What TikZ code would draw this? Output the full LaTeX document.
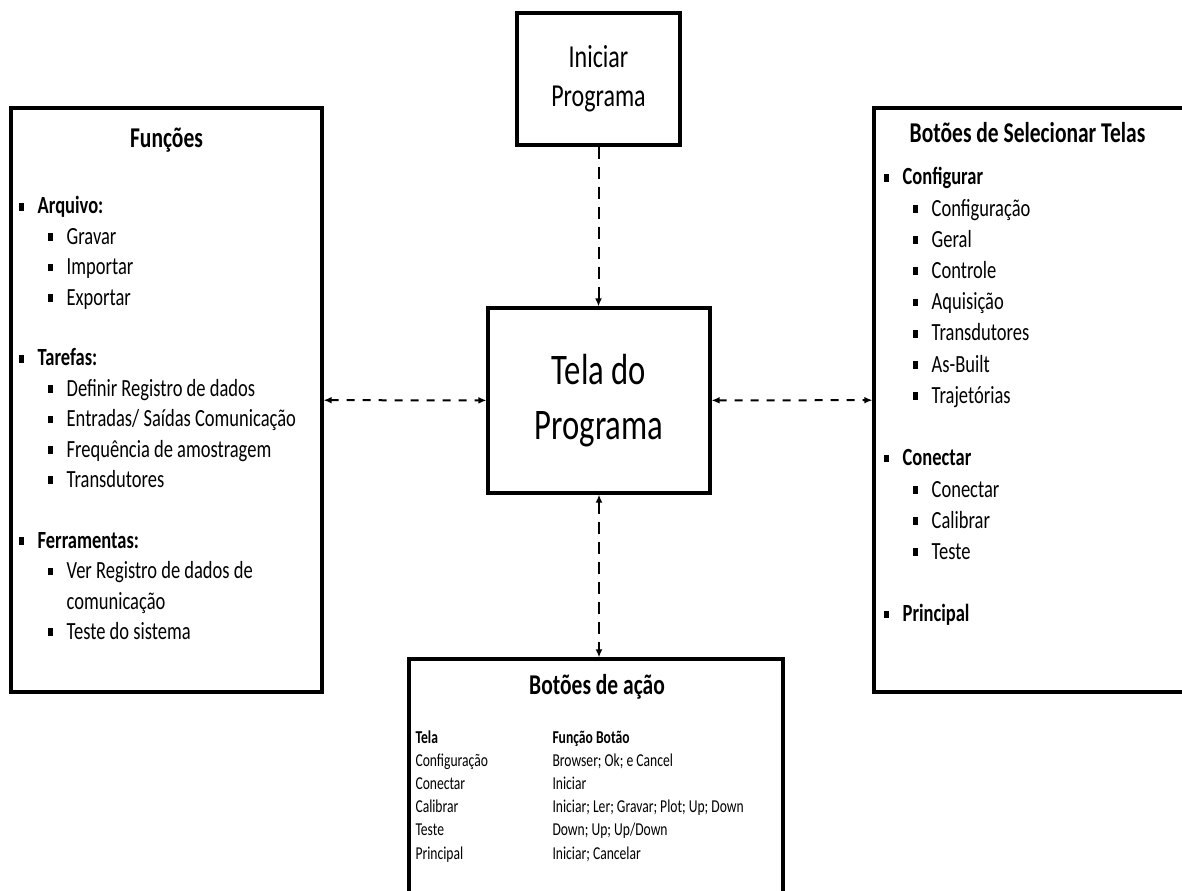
\documentclass[tikz,border=0pt]{standalone}
\usepackage{fontspec}
\setmainfont{Carlito}[FakeStretch=0.75]
\usetikzlibrary{arrows.meta}

\tikzset{every picture/.style={line width=0.75pt}}
\newcommand\mk{\rule[2.6pt]{4.4pt}{5.8pt}\hspace{10pt}}
\newcommand\fsz[2]{\fontsize{#1}{#2}\selectfont}

\begin{document}
\begin{tikzpicture}[x=0.75pt,y=0.75pt,yscale=-1,xscale=1,
  box/.style={draw, line width=2.3pt, inner sep=0pt, align=center},
  title/.style={anchor=base, inner sep=0pt, font=\fsz{21.5}{26}\bfseries},
  itemA/.style={anchor=base west, inner sep=0pt, font=\fsz{18.5}{22}\bfseries},
  itemB/.style={anchor=base west, inner sep=0pt, font=\fsz{18.5}{22}, xshift=21.75pt},
  itemC/.style={anchor=base west, inner sep=0pt, font=\fsz{18.5}{22}, xshift=36.15pt},
  cell/.style={anchor=base west, inner sep=0pt, font=\fsz{13.6}{16}},
  hlink/.style={line width=1.5pt, dash pattern=on 6pt off 6pt, {Latex[length=6pt,width=5pt]}-{Latex[length=6pt,width=5pt]}},
  vlink/.style={line width=1.5pt, dash pattern=on 9pt off 6pt},
]
\useasboundingbox (0,0) rectangle (1182,891);
\clip (0,0) rectangle (1182,891);

% boxes
\node[box, minimum width=122.25pt, minimum height=99pt, font=\fsz{24}{32}] (start) at (598.5,79) {\raisebox{-3pt}{Iniciar}\\Programa};
\node[box, minimum width=166.5pt, minimum height=138.75pt, font=\fsz{32.7}{41}] (screen) at (599,400.5) {Tela do\\Programa};
\node[box, minimum width=233.25pt, minimum height=438pt] (funcs) at (166.5,400) {};
\node[box, minimum width=237pt, minimum height=438pt] (select) at (1032,400) {};
\node[box, minimum width=280.5pt, minimum height=184.5pt] (actions) at (596,782) {};

% titles
\node[title] (funcsTitle) at (166.5,148) {Funções};
\node[title] (selectTitle) at (1027.5,143) {Botões de Selecionar Telas};
\node[title] (actionsTitle) at (597,694) {Botões de ação};

% left list (C = continued line, no bullet)
\foreach \lvl/\row/\txt [count=\i] in {A/0/\mk Arquivo:, B/1/\mk Gravar, B/2/\mk Importar, B/3/\mk Exportar,
    A/5/\mk Tarefas:, B/6/\mk Definir Registro de dados, B/7/{\mk Entradas/ Saídas Comunicação},
    B/8/\mk Frequência de amostragem, B/9/\mk Transdutores,
    A/11/\mk Ferramentas:, B/12/\mk Ver Registro de dados de, C/13/comunicação, B/14/\mk Teste do sistema}
  \node[item\lvl] (fn\i) at (18,214+\row*30.4) {\txt};

% right list
\foreach \lvl/\row/\txt [count=\i] in {A/0/Configurar, B/1/Configuração, B/2/Geral, B/3/Controle,
    B/4/Aquisição, B/5/Transdutores, B/6/As-Built, B/7/Trajetórias,
    A/9/Conectar, B/10/Conectar, B/11/Calibrar, B/12/Teste, A/14/Principal}
  \node[item\lvl] (sel\i) at (883,185+\row*31.2) {\mk\txt};

% action table
\node[cell, font=\fsz{13.6}{16}\bfseries] (scrHead) at (415,743) {Tela};
\node[cell, font=\fsz{13.6}{16}\bfseries] (btnHead) at (552,743) {Função Botão};
\foreach \scr/\btn [count=\i] in {Configuração/Browser; Ok; e Cancel, Conectar/Iniciar,
    Calibrar/Iniciar; Ler; Gravar; Plot; Up; Down, Teste/{Down; Up; Up/Down}, Principal/Iniciar; Cancelar} {
  \node[cell] (scr\i) at (415,743+\i*23.2) {\scr};
  \node[cell] (btn\i) at (552,743+\i*23.2) {\btn};
}

% connectors
\draw[vlink, -{Latex[length=6pt,width=5pt]}] (start.south) -- (start.south |- screen.north);
\draw[hlink] (funcs) -- (screen);
\draw[hlink] (screen) -- (select);
\draw[vlink, {Latex[length=6pt,width=5pt]}-{Latex[length=6pt,width=5pt]}] (screen.south) -- (screen.south |- actions.north);

\end{tikzpicture}
\end{document}
